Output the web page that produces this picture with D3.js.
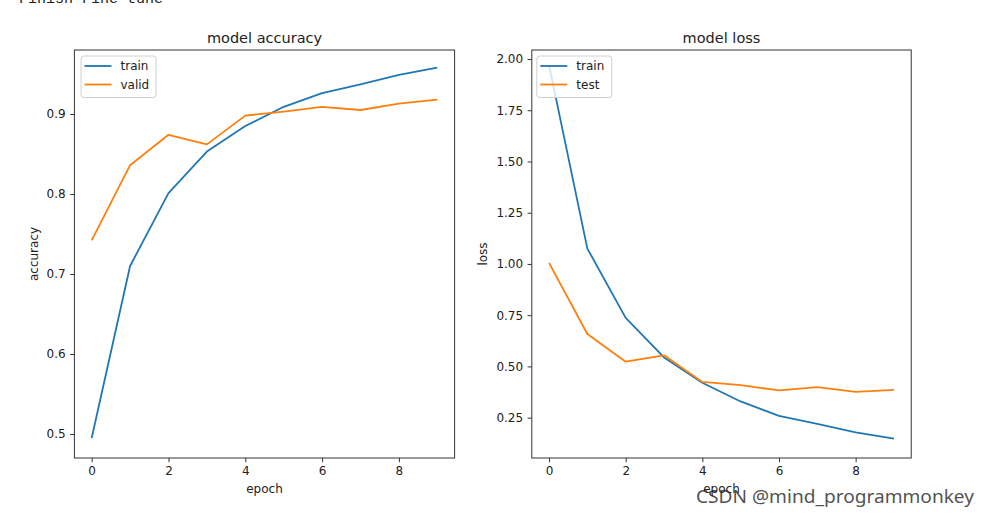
<!DOCTYPE html>
<html>
<head>
<meta charset="utf-8">
<script src="https://cdn.jsdelivr.net/npm/d3@7"></script>
<style>
  body { margin: 0; background: #fff; }
  text { font-family: "DejaVu Sans", sans-serif; fill: #222; }
</style>
</head>
<body>
<svg width="990" height="515"></svg>
<script>
const EPOCHS = [0, 1, 2, 3, 4, 5, 6, 7, 8, 9];
const ACC_TRAIN = [0.495, 0.710, 0.801, 0.853, 0.885, 0.909, 0.926, 0.937, 0.949, 0.958];
const ACC_VALID = [0.742, 0.836, 0.874, 0.862, 0.898, 0.903, 0.909, 0.905, 0.913, 0.918];
const LOSS_TRAIN = [1.97, 1.075, 0.737, 0.544, 0.420, 0.329, 0.259, 0.219, 0.178, 0.147];
const LOSS_TEST = [1.005, 0.658, 0.523, 0.554, 0.424, 0.409, 0.383, 0.399, 0.376, 0.385];
const EPOCH_TICKS = [0, 2, 4, 6, 8];
const ACC_TICKS = [0.5, 0.6, 0.7, 0.8, 0.9];
const LOSS_TICKS = [0.25, 0.5, 0.75, 1.0, 1.25, 1.5, 1.75, 2.0];

const BLUE = "#1f77b4";
const ORANGE = "#ff7f0e";

const svg = d3.select("svg");

// cut-off notebook output above the figure
svg.append("text")
  .attr("x", 19)
  .attr("y", 3)
  .style("font-family", "'Liberation Mono', monospace")
  .style("font-size", "15px")
  .text("Finish Fine-tune");

function drawPanel(p) {
  const x = d3.scaleLinear().domain([-0.45, 9.45]).range([p.left, p.right]);
  const y = d3.scaleLinear().domain(p.yDomain).range([458, 50]);

  svg.append("g")
    .attr("transform", "translate(0,458)")
    .call(d3.axisBottom(x).tickValues(EPOCH_TICKS).tickSize(4.2).tickPadding(4).tickSizeOuter(0))
    .call((g) => g.select(".domain").remove())
    .call((g) => g.selectAll("text").style("font-size", "12px").style("font-family", "DejaVu Sans").attr("fill", "#222"))
    .call((g) => g.selectAll("line").attr("stroke", "#333"));

  svg.append("g")
    .attr("transform", "translate(" + p.left + ",0)")
    .call(d3.axisLeft(y).tickValues(p.yTicks).tickFormat(d3.format(p.fmt)).tickSize(4.2).tickPadding(4.5).tickSizeOuter(0))
    .call((g) => g.select(".domain").remove())
    .call((g) => g.selectAll("text").style("font-size", "12px").style("font-family", "DejaVu Sans").attr("fill", "#222"))
    .call((g) => g.selectAll("line").attr("stroke", "#333"));

  const line = d3.line()
    .x((d, i) => x(EPOCHS[i]))
    .y((d) => y(d));

  p.series.forEach((s) => {
    svg.append("path")
      .datum(s.values)
      .attr("fill", "none")
      .attr("stroke", s.color)
      .attr("stroke-width", 1.8)
      .attr("stroke-linejoin", "round")
      .attr("d", line);
  });

  // frame
  svg.append("rect")
    .attr("x", p.left)
    .attr("y", 50)
    .attr("width", p.right - p.left)
    .attr("height", 408)
    .attr("fill", "none")
    .attr("stroke", "#333")
    .attr("stroke-width", 1);

  svg.append("text")
    .attr("x", (p.left + p.right) / 2)
    .attr("y", 43)
    .attr("text-anchor", "middle")
    .style("font-size", "14.5px")
    .text(p.title);

  svg.append("text")
    .attr("x", (p.left + p.right) / 2)
    .attr("y", 493)
    .attr("text-anchor", "middle")
    .style("font-size", "12px")
    .text("epoch");

  svg.append("text")
    .attr("transform", "translate(" + p.ylabelX + ",254) rotate(-90)")
    .attr("text-anchor", "middle")
    .style("font-size", "12px")
    .text(p.ylabel);

  // legend
  const lg = svg.append("g").attr("transform", "translate(" + (p.left + p.legendOffset) + ",56)");
  lg.append("rect")
    .attr("width", 75)
    .attr("height", 41.5)
    .attr("rx", 3)
    .attr("fill", "#fff")
    .attr("fill-opacity", 0.8)
    .attr("stroke", "#d0d0d0")
    .attr("stroke-width", 1);
  p.series.forEach((s, i) => {
    lg.append("line")
      .attr("x1", 3.5)
      .attr("x2", 30.5)
      .attr("y1", 10 + i * 18.5)
      .attr("y2", 10 + i * 18.5)
      .attr("stroke", s.color)
      .attr("stroke-width", 1.8);
    lg.append("text")
      .attr("x", 39.5)
      .attr("y", 14.3 + i * 18.5)
      .style("font-size", "12px")
      .text(s.name);
  });
}

drawPanel({
  left: 74.4, right: 454.6,
  yDomain: [0.47, 0.98], yTicks: ACC_TICKS, fmt: ".1f",
  title: "model accuracy", ylabel: "accuracy", ylabelX: 37.5, legendOffset: 6.6,
  series: [
    { name: "train", values: ACC_TRAIN, color: BLUE },
    { name: "valid", values: ACC_VALID, color: ORANGE },
  ],
});

drawPanel({
  left: 531.8, right: 911.2,
  yDomain: [0.053, 2.044], yTicks: LOSS_TICKS, fmt: ".2f",
  title: "model loss", ylabel: "loss", ylabelX: 486.5, legendOffset: 5,
  series: [
    { name: "train", values: LOSS_TRAIN, color: BLUE },
    { name: "test", values: LOSS_TEST, color: ORANGE },
  ],
});

// site watermark
svg.append("text")
  .attr("x", 696)
  .attr("y", 503)
  .attr("textLength", 278)
  .attr("lengthAdjust", "spacingAndGlyphs")
  .style("font-family", "'Noto Sans', sans-serif")
  .style("font-size", "18px")
  .attr("fill", "#999")
  .attr("fill-opacity", 0.8)
  .text("CSDN @mind_programmonkey");
</script>
</body>
</html>
